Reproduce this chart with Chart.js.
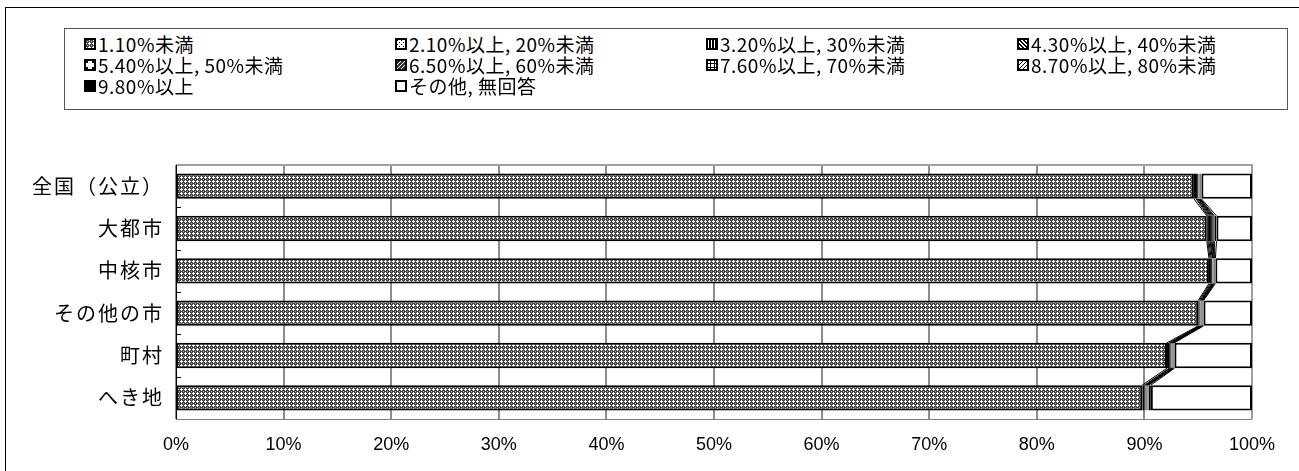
<!DOCTYPE html>
<html>
<head>
<meta charset="utf-8">
<script src="https://cdn.jsdelivr.net/npm/chart.js"></script>
<style>
  html, body { margin: 0; padding: 0; background: #fff; }
  #wrap { position: relative; width: 1299px; height: 471px; overflow: hidden; }
  #frame { position: absolute; left: 5px; top: 7px; width: 1294px; height: 470px;
           border-left: 1px solid #000; border-top: 1px solid #000; }
  #legend { position: absolute; left: 64px; top: 28px; width: 1222px; height: 80px;
            border: 1px solid #555; background: #fff; box-sizing: content-box;
            font-family: "Noto Sans CJK JP", sans-serif; font-size: 19px; letter-spacing: 0.5px; color: #000; }
  #legend .grid { display: grid; grid-template-columns: repeat(4, 311px);
                  padding: 4px 0 0 19px; row-gap: 0; }
  #legend .item { display: flex; align-items: center; height: 21px; white-space: nowrap; }
  #legend canvas { width: 12px; height: 12px; margin-right: 2px; }
  #chart { position: absolute; left: 0; top: 0; }
</style>
</head>
<body>
<div id="wrap">
  <div id="frame"></div>
  <canvas id="chart" width="1299" height="471"></canvas>
  <div id="legend"><div class="grid" id="legendGrid"></div></div>
</div>
<script>
// カテゴリ
const categories = ['全国（公立）', '大都市', '中核市', 'その他の市', '町村', 'へき地'];

// 系列名
const seriesNames = [
  '1.10%未満', '2.10%以上, 20%未満', '3.20%以上, 30%未満', '4.30%以上, 40%未満',
  '5.40%以上, 50%未満', '6.50%以上, 60%未満', '7.60%以上, 70%未満', '8.70%以上, 80%未満',
  '9.80%以上', 'その他, 無回答'
];

// 値 (%)
const s1  = [94.6, 95.8, 96.0, 95.0, 92.1, 89.8];
const s2  = [0.2, 0.1, 0.1, 0.1, 0.2, 0.2];
const s3  = [0.1, 0.1, 0.1, 0.1, 0.1, 0.1];
const s4  = [0.1, 0.1, 0.1, 0.05, 0.1, 0.1];
const s5  = [0.05, 0.1, 0.05, 0.05, 0.05, 0.05];
const s6  = [0.05, 0.1, 0.05, 0.05, 0.05, 0.05];
const s7  = [0.05, 0.1, 0.05, 0.05, 0.05, 0.05];
const s8  = [0.05, 0.1, 0.05, 0.05, 0.05, 0.05];
const s9  = [0.1, 0.2, 0.1, 0.05, 0.1, 0.2];
const s10 = [4.7, 3.3, 3.4, 4.5, 7.2, 9.4];

// 目盛り
const xTicks = [0, 10, 20, 30, 40, 50, 60, 70, 80, 90, 100];

const seriesValues = [s1, s2, s3, s4, s5, s6, s7, s8, s9, s10];

// 模様をタイルに描く
function drawTile(ctx, kind) {
  const px = (x, y, c) => { ctx.fillStyle = c; ctx.fillRect(x, y, 1, 1); };
  switch (kind) {
    case 0: // 網目
      ctx.fillStyle = '#444'; ctx.fillRect(0, 0, 4, 4);
      px(1, 0, '#fff'); px(0, 1, '#fff'); px(1, 1, '#fff'); px(2, 1, '#fff'); px(1, 2, '#fff');
      px(3, 3, '#aaa');
      return 4;
    case 1: // 点
      ctx.fillStyle = '#fff'; ctx.fillRect(0, 0, 4, 4);
      px(0, 0, '#000'); px(2, 2, '#000');
      return 4;
    case 2: // 縦線
      ctx.fillStyle = '#fff'; ctx.fillRect(0, 0, 3, 3);
      ctx.fillStyle = '#000'; ctx.fillRect(0, 0, 2, 3);
      return 3;
    case 3: // 斜線
      ctx.fillStyle = '#fff'; ctx.fillRect(0, 0, 4, 4);
      for (let i = 0; i < 4; i++) { px(i, i, '#000'); px((i + 1) % 4, i, '#000'); }
      return 4;
    case 4: // 中点
      ctx.fillStyle = '#fff'; ctx.fillRect(0, 0, 6, 6);
      px(2, 2, '#000'); px(3, 2, '#000'); px(2, 3, '#000'); px(3, 3, '#000');
      return 6;
    case 5: // 逆斜線
      ctx.fillStyle = '#333'; ctx.fillRect(0, 0, 4, 4);
      for (let i = 0; i < 4; i++) { px(3 - i, i, '#fff'); }
      return 4;
    case 6: // 格子
      ctx.fillStyle = '#fff'; ctx.fillRect(0, 0, 4, 4);
      ctx.fillStyle = '#000'; ctx.fillRect(0, 0, 4, 1); ctx.fillRect(0, 0, 1, 4);
      return 4;
    case 7: // 細斜線
      ctx.fillStyle = '#fff'; ctx.fillRect(0, 0, 4, 4);
      for (let i = 0; i < 4; i++) { px(3 - i, i, '#000'); }
      return 4;
    case 8: // 黒
      ctx.fillStyle = '#000'; ctx.fillRect(0, 0, 4, 4);
      return 4;
    default: // 白
      ctx.fillStyle = '#fff'; ctx.fillRect(0, 0, 4, 4);
      return 4;
  }
}

function makePattern(kind) {
  const c = document.createElement('canvas');
  c.width = 6; c.height = 6;
  const ctx = c.getContext('2d');
  const n = drawTile(ctx, kind);
  const t = document.createElement('canvas');
  t.width = n; t.height = n;
  t.getContext('2d').drawImage(c, 0, 0);
  return document.getElementById('chart').getContext('2d').createPattern(t, 'repeat');
}

// 凡例 (HTML)
const legendGrid = document.getElementById('legendGrid');
seriesNames.forEach((name, i) => {
  const item = document.createElement('div');
  item.className = 'item';
  const m = document.createElement('canvas');
  m.width = 12; m.height = 12;
  const mc = m.getContext('2d');
  mc.fillStyle = makePattern(i);
  mc.fillRect(0, 0, 12, 12);
  mc.strokeStyle = '#000'; mc.lineWidth = 2;
  mc.strokeRect(1, 1, 10, 10);
  const span = document.createElement('span');
  span.textContent = name;
  item.appendChild(m);
  item.appendChild(span);
  legendGrid.appendChild(item);
});

// 枠・目盛線・系列線
const seriesLines = {
  id: 'seriesLines',
  beforeDatasetsDraw(chart) {
    const { ctx, chartArea: a } = chart;
    const xs = chart.scales.x, ys = chart.scales.y;
    ctx.save();
    // 縦の目盛線
    ctx.strokeStyle = '#8c8c8c'; ctx.lineWidth = 2;
    xTicks.forEach(v => {
      const xx = Math.round(xs.getPixelForValue(v));
      ctx.beginPath(); ctx.moveTo(xx, a.top); ctx.lineTo(xx, a.bottom); ctx.stroke();
    });
    ctx.strokeStyle = '#a0a0a0'; ctx.lineWidth = 2;
    ctx.beginPath();
    ctx.moveTo(a.left, a.top); ctx.lineTo(a.right, a.top); ctx.lineTo(a.right, a.bottom);
    ctx.stroke();
    ctx.lineWidth = 1; ctx.strokeStyle = '#808080';
    ctx.beginPath(); ctx.moveTo(a.left, a.bottom + 0.5); ctx.lineTo(a.right, a.bottom + 0.5); ctx.stroke();
    ctx.strokeStyle = '#000';
    ctx.beginPath(); ctx.moveTo(a.left + 0.5, a.top); ctx.lineTo(a.left + 0.5, a.bottom); ctx.stroke();
    // 軸の目盛り (内側)
    for (let i = 1; i < categories.length; i++) {
      const yy = Math.round((ys.getPixelForTick(i - 1) + ys.getPixelForTick(i)) / 2) + 0.5;
      ctx.beginPath(); ctx.moveTo(a.left, yy); ctx.lineTo(a.left + 5, yy); ctx.stroke();
    }
    ctx.restore();
  },
  afterDatasetsDraw(chart) {
    const { ctx } = chart;
    ctx.save();
    ctx.strokeStyle = '#000'; ctx.lineWidth = 1;
    for (let d = 0; d < seriesValues.length - 1; d++) {
      const els = chart.getDatasetMeta(d).data;
      for (let j = 0; j < els.length - 1; j++) {
        const p = els[j].getProps(['x', 'y', 'height'], true);
        const q = els[j + 1].getProps(['x', 'y', 'height'], true);
        ctx.beginPath();
        ctx.moveTo(p.x, p.y + p.height / 2);
        ctx.lineTo(q.x, q.y - q.height / 2);
        ctx.stroke();
      }
    }
    ctx.restore();
    // y軸ラベルは字間を空ける (ラベルはデータの後に描かれる)
    ctx.letterSpacing = '2px';
  },
  afterDraw(chart) {
    chart.ctx.letterSpacing = '0px';
  }
};

const datasets = seriesNames.map((name, i) => ({
  label: name,
  data: seriesValues[i],
  backgroundColor: makePattern(i),
  borderColor: '#000',
  borderWidth: 2,
  borderSkipped: false,
  barPercentage: 0.6,
  categoryPercentage: 1.0
}));

const myChart = {
  type: 'bar',
  data: { labels: categories, datasets },
  options: {
    indexAxis: 'y',
    responsive: false,
    animation: false,
    devicePixelRatio: 1,
    layout: { padding: { left: 0, top: 165, right: 47, bottom: 0 } },
    plugins: { legend: { display: false }, tooltip: { enabled: false } },
    scales: {
      x: {
        stacked: true,
        min: 0, max: 100,
        afterBuildTicks(scale) { scale.ticks = xTicks.map(v => ({ value: v })); },
        afterFit(scale) { scale.height = 52; },
        grid: { display: false, drawTicks: false },
        border: { display: false },
        ticks: {
          padding: 15,
          color: '#000',
          maxRotation: 0,
          font: { family: '"Liberation Sans Narrow", "Liberation Sans", sans-serif', size: 18 },
          callback: v => v + '%'
        }
      },
      y: {
        stacked: true,
        afterFit(scale) { scale.width = 176; },
        grid: { display: false, drawTicks: false },
        border: { display: false },
        ticks: {
          z: 1,
          padding: 12,
          color: '#000',
          font: { family: '"Noto Sans CJK JP", sans-serif', size: 20 }
        }
      }
    }
  },
  plugins: [seriesLines]
};

new Chart(document.getElementById('chart'), myChart);
</script>
</body>
</html>
